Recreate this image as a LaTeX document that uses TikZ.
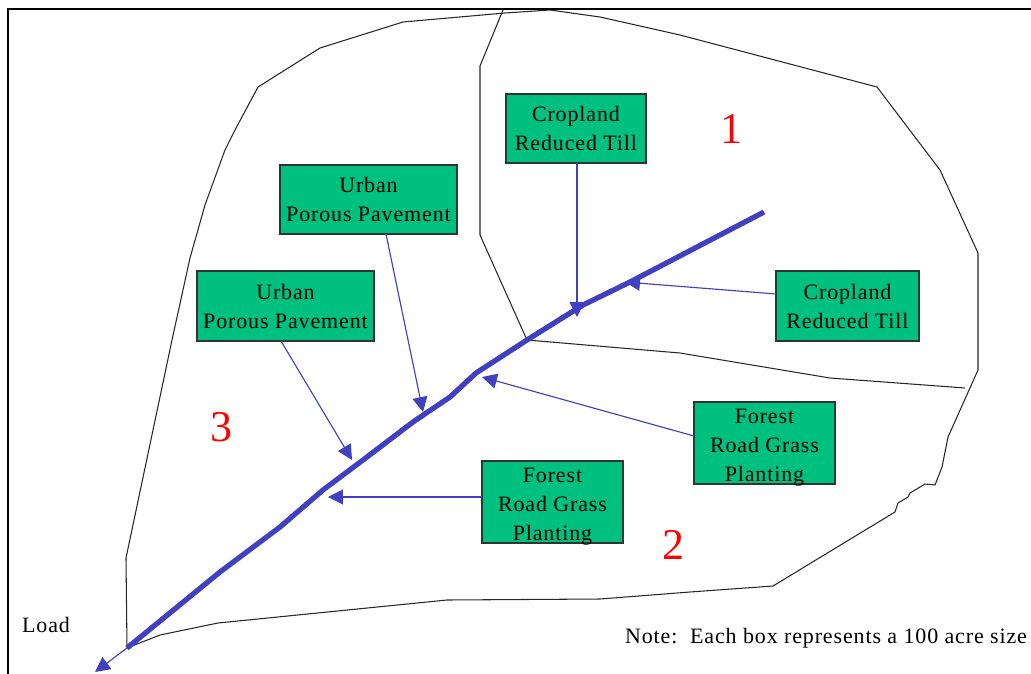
\documentclass[tikz,border=0pt]{standalone}
\usepackage{fontspec}
\setmainfont[LetterSpace=4]{Liberation Serif}
\usetikzlibrary{arrows.meta}
\definecolor{boxgreen}{RGB}{0,192,128}
\definecolor{flowblue}{RGB}{64,64,192}
\tikzset{
  practice/.style={shape=rectangle,draw=black!80,fill=boxgreen,line width=0.9pt,align=center,font=\fontsize{12.5}{16.5}\selectfont,anchor=north west,inner sep=0pt,outer sep=0pt},
  tallbox/.style={practice,minimum width=2.82cm,minimum height=1.64cm,text height=43.7pt,text depth=0pt},
  boundary/.style={draw=black!85,line width=0.6pt,line join=round},
  inflow/.style={draw=flowblue,line width=0.65pt,-{Triangle[length=8.5pt,width=8.5pt]}},
  stream/.style={draw=flowblue,line width=3pt,line join=round},
  subbasin/.style={text=red,font=\fontsize{25}{25}\selectfont},
  plain/.style={font=\fontsize{12.5}{14}\selectfont}
}
\begin{document}
\begin{tikzpicture}[x=0.02cm,y=-0.02cm]
  \useasboundingbox (0,0) rectangle (1031,673);
  \node[draw=black,line width=1.2pt,minimum width=20.9cm,minimum height=13.5cm,anchor=north west,inner sep=0pt] (frame) at (7,7.5) {};

  \coordinate (outlet) at (127,648);
  \coordinate (split) at (527,340);
  \coordinate (ridge) at (965,388);
  \coordinate (peak) at (503,10);
  \coordinate (head) at (764,212);
  \coordinate (load) at (95,672);

  \draw[boundary] (outlet) -- (126,558) -- (172,340) -- (190,258) -- (205,205) -- (225,150) -- (235,130) -- (258,87) -- (320,48) -- (403,22) -- (505,13) -- (550,10) -- (600,17) -- (680,35) -- (877,87) -- (940,170) -- (978,253) -- (978,370) -- (948,437) -- (942,467) -- (935,485) -- (925,484) -- (910,493) -- (908,497) -- (898,503) -- (895,512) -- (773,586) -- (690,592) -- (600,599) -- (447,600) -- (218,623) -- (160,635) -- (outlet);
  \draw[boundary] (peak) -- (480,66) -- (480,235) -- (split);
  \draw[boundary] (split) -- (680,353) -- (830,378) -- (ridge);

  \draw[stream] (outlet) -- (220,572) -- (280,527) -- (323,490) -- (363,460) -- (413,422) -- (450,397) -- (476,373) -- (split) -- (583,305) -- (630,282) -- (head);
  \draw[inflow] (outlet) -- (load);

  \node[practice,minimum width=2.8cm,minimum height=1.38cm] (crop1) at (506,94) {Cropland\\Reduced Till};
  \node[practice,minimum width=3.54cm,minimum height=1.38cm] (urban1) at (280,165) {\rule{0pt}{9pt}Urban\\Porous Pavement};
  \node[practice,minimum width=3.54cm,minimum height=1.4cm] (urban2) at (197,271) {\rule{0pt}{9pt}Urban\\Porous Pavement};
  \node[practice,minimum width=2.86cm,minimum height=1.4cm] (crop2) at (776,271) {\rule{0pt}{9.5pt}Cropland\\Reduced Till};
  \node[tallbox] (forest1) at (694,402) {Forest\\Road Grass\\Planting};
  \node[tallbox] (forest2) at (482,461) {Forest\\Road Grass\\Planting};

  \coordinate (t1) at (577,317);
  \coordinate (t2) at (625,282);
  \coordinate (t3) at (482,377);
  \coordinate (t4) at (423,412);
  \coordinate (t5) at (352,460);
  \coordinate (t6) at (328,497);

  \draw[inflow] (577,163) -- (t1);
  \draw[inflow] (crop2.west |- 0,294) -- (t2);
  \draw[inflow] (forest1.west |- 0,436) -- (t3);
  \draw[inflow] (386,234) -- (t4);
  \draw[inflow] (281,341) -- (t5);
  \draw[inflow] (forest2.west |- t6) -- (t6);

  \node[subbasin] (one) at (731,129) {1};
  \node[subbasin] (two) at (673,545) {2};
  \node[subbasin] (three) at (221,427) {3};
  \node[plain] (loadtext) at (46,625) {Load};
  \node[plain] (note) at (826,638) {Note:\ \ Each box represents a 100 acre size};
\end{tikzpicture}
\end{document}
